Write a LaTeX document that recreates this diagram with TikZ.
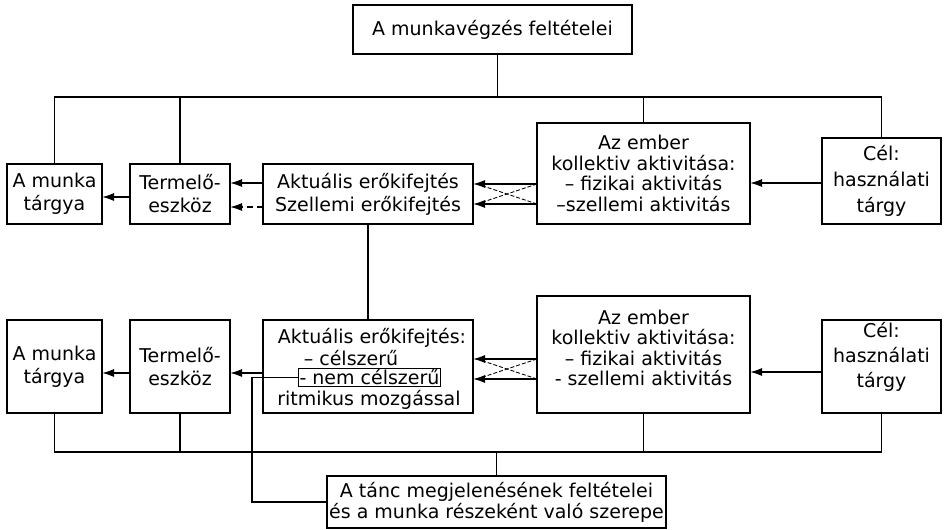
\documentclass[tikz,border=0pt]{standalone}
\usepackage{fontspec}
\setmainfont{DejaVu Sans}
\usetikzlibrary{arrows.meta,calc}
\begin{document}
\begin{tikzpicture}[x=1pt,y=-1pt,line width=1.6pt,
  box/.style={draw,rectangle,inner sep=0pt,outer sep=0pt,align=center,
    font=\fontsize{19}{23}\selectfont},
  txt/.style={inner sep=0pt,align=center,font=\fontsize{19}{21}\selectfont},
  arr/.style={-{Latex[length=12pt,width=8pt]}},
  dasharr/.style={arr,dash pattern=on 6pt off 4pt},
  cross/.style={line width=0.9pt,dash pattern=on 4pt off 2pt}]
\useasboundingbox (0,0) rectangle (948,530);
% top
\node[box,minimum width=279,minimum height=49] (T) at (492.5,29.5) {A munkavégzés feltételei};
% upper row
\node[box,minimum width=95,minimum height=60] (A1) at (54.5,194) {A munka\\tárgya};
\node[box,minimum width=100,minimum height=60] (T1) at (180,194) {Termelő-\\eszköz};
\node[box,minimum width=210,minimum height=60] (K1) at (368,194) {Aktuális erőkifejtés\\Szellemi erőkifejtés};
\node[box,minimum width=213,minimum height=101,font=\fontsize{19}{20.7}\selectfont] (E1) at (643.5,173.5)
  {Az ember\\kollektiv aktivitása:\\– fizikai aktivitás\\–szellemi aktivitás};
\node[box,minimum width=119,minimum height=86,font=\fontsize{19}{26}\selectfont] (C1) at (881.5,181)
  {Cél:\\használati\\tárgy};
% lower row
\node[box,minimum width=95,minimum height=93] (A2) at (54.5,366.5) {A munka\\tárgya};
\node[box,minimum width=100,minimum height=93] (T2) at (180,366.5) {Termelő-\\eszköz};
\node[box,minimum width=210,minimum height=93] (K2) at (368,366.5) {};
\node[txt] (K2a) at (372,338) {Aktuális erőkifejtés:};
\node[txt] (K2b) at (351,358) {– célszerű};
\node[draw,line width=1.1pt,inner xsep=1pt,inner ysep=1pt,font=\fontsize{19}{21}\selectfont] (N) at (369.5,377.5) {- nem célszerű};
\node[txt] (K2d) at (369,400) {ritmikus mozgással};
\node[box,minimum width=213,minimum height=117] (E2) at (643.5,354.5) {};
\node[txt,font=\fontsize{19}{20.5}\selectfont] (E2t) at (643.5,348)
  {Az ember\\kollektiv aktivitása:\\– fizikai aktivitás\\- szellemi aktivitás};
\node[box,minimum width=119,minimum height=93] (C2) at (881.5,366.5) {};
\node[txt,font=\fontsize{19}{25}\selectfont] (C2t) at (881.5,357) {Cél:\\használati\\tárgy};
% bottom
\node[box,minimum width=339,minimum height=52,font=\fontsize{19}{21}\selectfont] (B) at (496.5,502)
  {A tánc megjelenésének feltételei\\és a munka részeként való szerepe};
% upper connectors
\draw ($(T.south)+(5,0)$) -- ($(T.south |- 0,97)+(5,0)$);
\draw (A1.north) -- (A1.north |- 0,97) -- (C1.north |- 0,97) -- (C1.north);
\draw (T1.north) -- (T1.north |- 0,97);
\draw (E1.north) -- (E1.north |- 0,97);
\draw[arr] (T1.west |- 0,197) -- (A1.east |- 0,197);
\draw[arr] (K1.west |- 0,183) -- (T1.east |- 0,183);
\draw[dasharr] (K1.west |- 0,207) -- (T1.east |- 0,207);
\draw[arr] (E1.west |- 0,184) -- (K1.east |- 0,184);
\draw[arr] (E1.west |- 0,204) -- (K1.east |- 0,204);
\draw[cross] (E1.west |- 0,184) -- ($(K1.east |- 0,204)+(10,-2)$);
\draw[cross] (E1.west |- 0,204) -- ($(K1.east |- 0,184)+(10,2)$);
\draw[arr] (C1.west |- 0,183) -- (E1.east |- 0,183);
\draw (K1.south) -- (K2.north);
% lower connectors
\draw[arr] (T2.west |- 0,373) -- (A2.east |- 0,373);
\draw[arr] (K2.west |- 0,373) -- (T2.east |- 0,373);
\draw[arr] (E2.west |- 0,359) -- (K2.east |- 0,359);
\draw[arr] (E2.west |- 0,379) -- (K2.east |- 0,379);
\draw[cross] (E2.west |- 0,359) -- ($(K2.east |- 0,379)+(10,-2)$);
\draw[cross] (E2.west |- 0,379) -- ($(K2.east |- 0,359)+(10,2)$);
\draw[arr] (C2.west |- 0,372) -- (E2.east |- 0,372);
\draw (A2.south) -- (A2.south |- 0,452) -- (C2.south |- 0,452) -- (C2.south);
\draw (T2.south) -- (T2.south |- 0,452);
\draw (E2.south) -- (E2.south |- 0,452);
\draw (B.north) -- (B.north |- 0,452);
\draw (N.west) -| ($(B.west)+(-75,0)$) -- (B.west);
\end{tikzpicture}
\end{document}
